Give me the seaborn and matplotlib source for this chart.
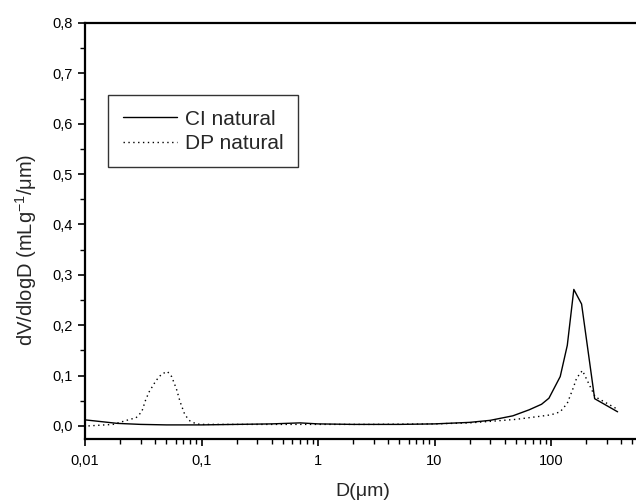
import matplotlib
matplotlib.use("Agg")
import matplotlib.pyplot as plt
import matplotlib.ticker as mticker
import seaborn as sns
import pandas as pd

# CI natural (solid)
ci_d = [0.01, 0.019, 0.03, 0.05, 0.1, 0.2, 0.4, 0.7, 1, 2, 5, 10, 20, 30,
        47, 65, 83, 96, 120, 138, 157, 183, 237, 373]
ci_v = [0.012, 0.005, 0.003, 0.002, 0.002, 0.003, 0.004, 0.006, 0.004, 0.003,
        0.003, 0.004, 0.007, 0.011, 0.020, 0.032, 0.043, 0.055, 0.098, 0.16,
        0.271, 0.242, 0.054, 0.028]

# DP natural (dotted)
dp_d = [0.0107, 0.0174, 0.0243, 0.0274, 0.0307, 0.0332, 0.0356, 0.0407,
        0.0455, 0.051, 0.0554, 0.061, 0.0655, 0.072, 0.0795, 0.09, 0.1, 0.3,
        1, 3, 10, 20, 30, 50, 80, 100, 120, 138, 155, 166, 186, 239, 373]
dp_v = [0.0, 0.003, 0.013, 0.016, 0.028, 0.052, 0.068, 0.09, 0.103, 0.108,
        0.098, 0.073, 0.048, 0.022, 0.01, 0.004, 0.003, 0.003, 0.003, 0.003,
        0.004, 0.006, 0.009, 0.013, 0.019, 0.022, 0.028, 0.045, 0.075, 0.095,
        0.11, 0.058, 0.033]

y_ticks = [0.0, 0.1, 0.2, 0.3, 0.4, 0.5, 0.6, 0.7, 0.8]
x_ticks = [0.01, 0.1, 1, 10, 100]
x_labels = ["0,01", "0,1", "1", "10", "100"]

sns.set_style("ticks")
plt.rcParams["font.family"] = ["Liberation Sans", "DejaVu Sans"]
plt.rcParams["mathtext.fontset"] = "custom"
plt.rcParams["mathtext.rm"] = "Liberation Sans"
plt.rcParams["mathtext.it"] = "Liberation Sans"
plt.rcParams["mathtext.default"] = "regular"

df = pd.concat([
    pd.DataFrame({"D": ci_d, "V": ci_v, "sample": "CI natural"}),
    pd.DataFrame({"D": dp_d, "V": dp_v, "sample": "DP natural"}),
])

fig = plt.figure(figsize=(6.36, 5.04), dpi=100)
ax = fig.add_axes([85 / 636, 65 / 504, 555 / 636, 416 / 504])

sns.lineplot(data=df, x="D", y="V", hue="sample", style="sample",
             palette=["black", "black"], dashes=[(None, None), (1, 2.5)],
             linewidth=1.0, sort=False, estimator=None, ax=ax)

ax.set_xscale("log")
ax.set_xlim(0.01, 10 ** ((640 - 85) / 116.5 - 2))
ax.set_ylim(-0.026, 0.8)

ax.set_xticks(x_ticks)
ax.set_xticklabels(x_labels)
ax.xaxis.set_minor_locator(mticker.LogLocator(base=10, subs=range(2, 10)))
ax.xaxis.set_minor_formatter(mticker.NullFormatter())
ax.set_yticks(y_ticks)
ax.set_yticklabels([f"{v:.1f}".replace(".", ",") for v in y_ticks])
ax.yaxis.set_minor_locator(mticker.MultipleLocator(0.05))

ax.tick_params(axis="both", which="major", direction="out", length=5,
               width=1.2, labelsize=10.5, color="black", labelcolor="black")
ax.tick_params(axis="both", which="minor", direction="out", length=3.5,
               width=1.0, color="black")
ax.tick_params(axis="x", pad=6)

for side in ["left", "bottom", "top", "right"]:
    ax.spines[side].set_visible(True)
    ax.spines[side].set_color("black")
    ax.spines[side].set_linewidth(1.6)

ax.set_xlabel("D(μm)", fontsize=14)
ax.xaxis.set_label_coords(0.5, -0.105)
ax.set_ylabel("dV/dlogD (mLg$^{-1}$/μm)", fontsize=14.5)
ax.yaxis.set_label_coords(-0.082, 0.454)

leg = ax.legend(loc="upper left", bbox_to_anchor=(108 / 636, 1 - 95 / 504),
                bbox_transform=fig.transFigure, fontsize=15,
                frameon=True, fancybox=False, edgecolor="black",
                handlelength=2.6, handletextpad=0.4, borderpad=0.7,
                labelspacing=0.25, borderaxespad=0)
leg.get_frame().set_linewidth(1.0)
for line in leg.get_lines():
    line.set_linewidth(1.0)

fig.savefig("out.png", dpi=100)
